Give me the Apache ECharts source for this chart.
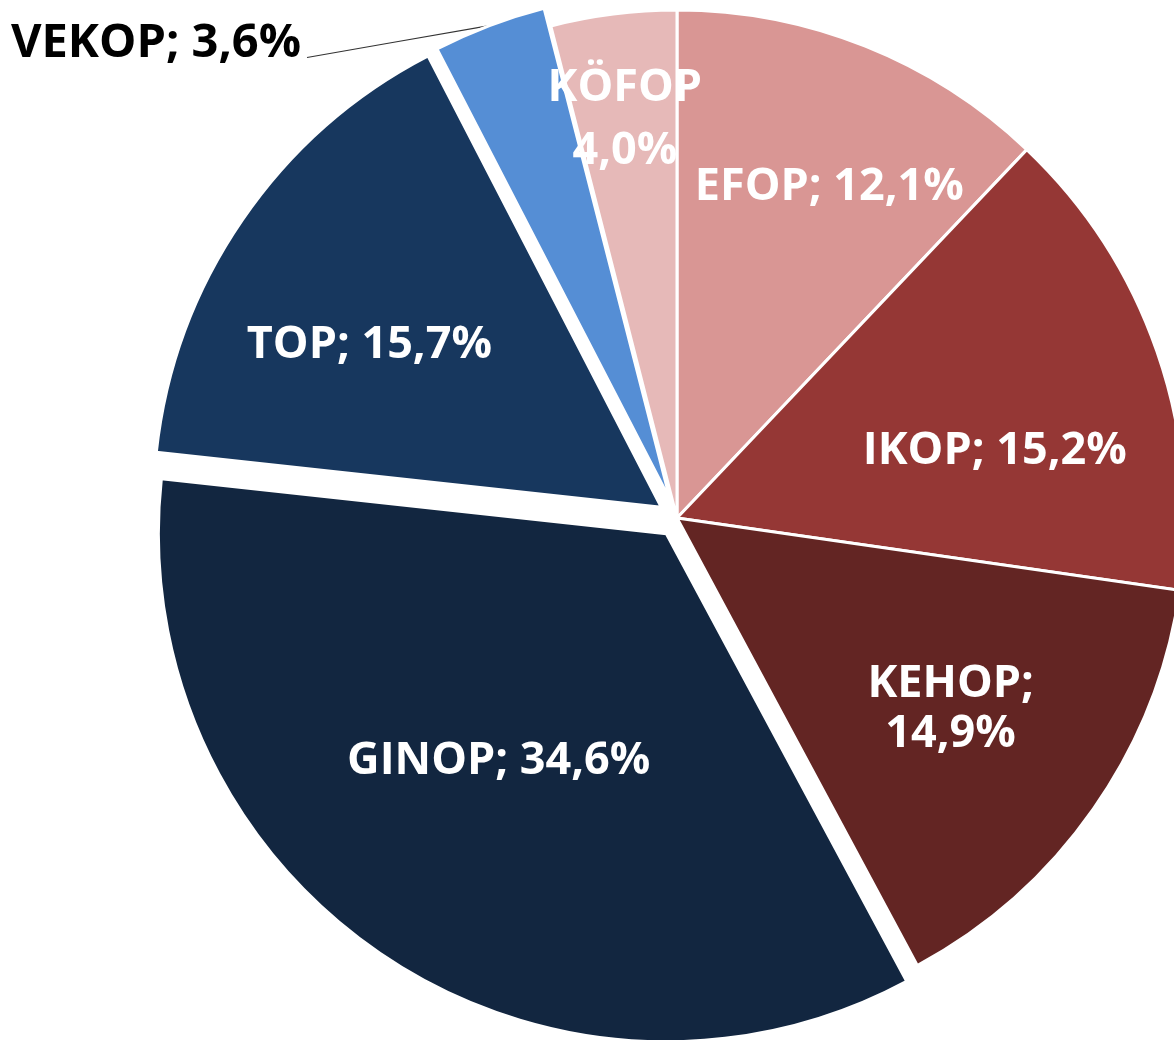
<!DOCTYPE html>
<html>
<head>
<meta charset="utf-8">
<title>OP shares</title>
<script src="https://cdn.jsdelivr.net/npm/echarts@6/dist/echarts.min.js"></script>
<style>
    html, body { margin: 0; padding: 0; background: #fff; }
    #main { width: 1174px; height: 1040px; }
</style>
</head>
<body>
<div id="main"></div>
<script>
// operative programmes, clockwise from 12 o'clock
var names = ['EFOP', 'IKOP', 'KEHOP', 'GINOP', 'TOP', 'VEKOP', 'KÖFOP'];
var shares = [12.1, 15.2, 14.9, 34.6, 15.7, 3.6, 4.0];
var colors = ['#D99694', '#953735', '#632523', '#122640', '#17375E', '#558ED5', '#E6B9B8'];
var exploded = ['GINOP', 'TOP', 'VEKOP'];

// label tweaks (how the label text is broken, where it sits)
var labelSep = { 'KEHOP': ';\n', 'KÖFOP': '\n' };
var labelShift = {
    'EFOP': [57, -92],
    'IKOP': [75, 17],
    'KEHOP': [63, 44],
    'GINOP': [-24, 14],
    'TOP': [-80, -17],
    'VEKOP': [-148, 32],
    'KÖFOP': [-20, -143]
};

var chart = echarts.init(document.getElementById('main'));

var pieData = names.map(function (n, i) {
    var item = {
        name: n,
        value: shares[i],
        selected: exploded.indexOf(n) >= 0,
        itemStyle: { color: colors[i] }
    };
    if (n === 'VEKOP') {
        item.label = { position: 'outside', color: '#000', fontSize: 47 };
        item.labelLine = { show: true };
    }
    if (n === 'KÖFOP') {
        item.label = { lineHeight: 63 };
    }
    return item;
});

chart.setOption({
    animation: false,
    series: [
        {
            type: 'pie',
            center: [677, 518],
            radius: 508,
            startAngle: 90,
            clockwise: true,
            selectedMode: 'multiple',
            selectedOffset: 19,
            data: pieData,
            itemStyle: {
                borderColor: '#fff',
                borderWidth: 3
            },
            label: {
                show: true,
                position: 'inside',
                color: '#fff',
                fontFamily: 'Open Sans',
                fontWeight: 'bold',
                fontSize: 45,
                lineHeight: 50,
                formatter: function (p) {
                    var sep = labelSep[p.name] || '; ';
                    return p.name + sep + p.value.toFixed(1).replace('.', ',') + '%';
                }
            },
            labelLine: {
                show: false,
                lineStyle: { color: '#333', width: 1.2 }
            },
            labelLayout: function (p) {
                var s = labelShift[names[p.dataIndex]];
                var res = { dx: s[0], dy: s[1] };
                if (p.labelLinePoints) {
                    // leader line: from the slice edge to the text's lower right corner
                    var r = p.labelRect;
                    var from = p.labelLinePoints[0];
                    var to = [r.x + s[0] + r.width + 6, r.y + s[1] + r.height * 0.78];
                    res.labelLinePoints = [
                        from,
                        [(from[0] + to[0]) / 2, (from[1] + to[1]) / 2],
                        to
                    ];
                }
                return res;
            },
            emphasis: { disabled: true }
        }
    ]
});
</script>
</body>
</html>
